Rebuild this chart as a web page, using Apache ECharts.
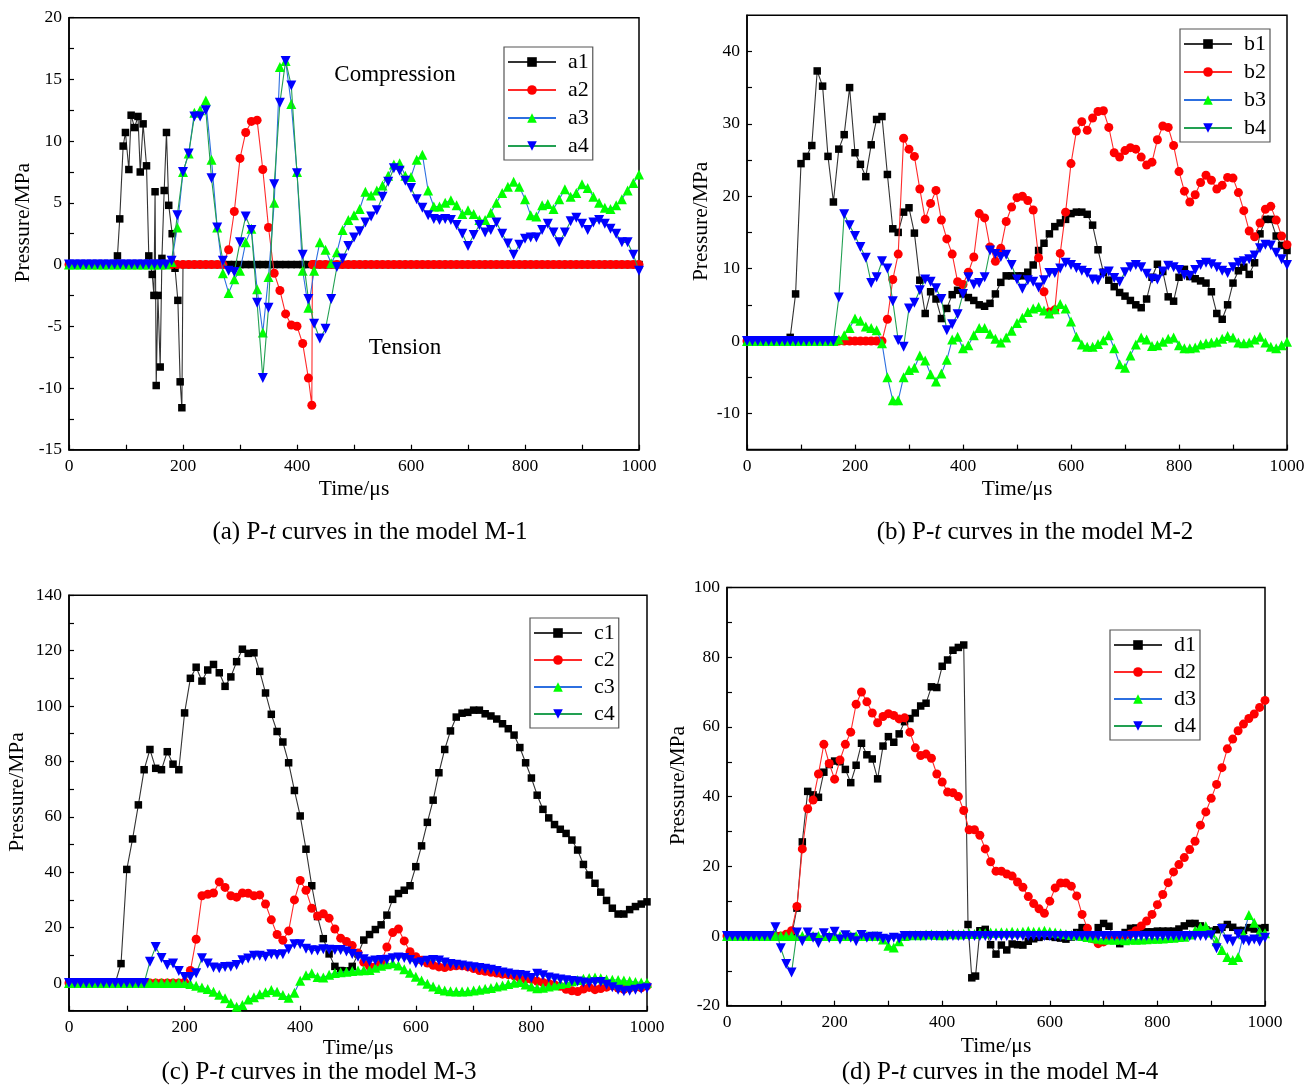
<!DOCTYPE html>
<html><head><meta charset="utf-8">
<script src="https://cdn.jsdelivr.net/npm/echarts@6/dist/echarts.min.js"></script>
<style>html,body{margin:0;padding:0;background:#fff}#c{width:1315px;height:1088px}</style>
</head><body><div id="c"></div>
<script>
// ---------- time grid (µs) ----------
const T10 = [
0,10,20,30,40,50,60,70,80,90,
100,110,120,130,140,150,160,170,180,190,
200,210,220,230,240,250,260,270,280,290,
300,310,320,330,340,350,360,370,380,390,
400,410,420,430,440,450,460,470,480,490,
500,510,520,530,540,550,560,570,580,590,
600,610,620,630,640,650,660,670,680,690,
700,710,720,730,740,750,760,770,780,790,
800,810,820,830,840,850,860,870,880,890,
900,910,920,930,940,950,960,970,980,990,
1000];

// ---------- tick labels ----------
const xLabels = [0,200,400,600,800,1000];
const xTicks = [0,100,200,300,400,500,600,700,800,900,1000];
const aYLabels = [-15,-10,-5,0,5,10,15,20];
const aYTicks = [-15,-12.5,-10,-7.5,-5,-2.5,0,2.5,5,7.5,10,12.5,15,17.5,20];
const bYLabels = [-10,0,10,20,30,40];
const bYTicks = [-10,-5,0,5,10,15,20,25,30,35,40];
const cYLabels = [0,20,40,60,80,100,120,140];
const cYTicks = [-10,0,10,20,30,40,50,60,70,80,90,100,110,120,130,140];
const dYLabels = [-20,0,20,40,60,80,100];
const dYTicks = [-20,-10,0,10,20,30,40,50,60,70,80,90,100];

// ---------- panel (a) M-1 ----------
const a1T = [0,10,20,30,40,50,60,70,80,85,89,95,99,105,109,115,121,125,130,136,140,146,149,151,153,156,160,163,167,171,175,181,186,191,195,198,200].concat(T10.slice(21));
const a1V = [0,0,0,0,0,0,0,0,0,0.7,3.7,9.6,10.7,7.7,12.1,11.1,12.0,7.5,11.4,8.0,0.7,-0.8,-2.5,5.9,-9.8,-2.5,-8.3,0.5,6.0,10.7,4.8,2.5,-0.3,-2.9,-9.5,-11.6,0,
0,0,0,0,0,0,0,0,0,
0,0,0,0,0,0,0,0,0,0,
0,0,0,0,0,0,0,0,0,0,
0,0,0,0,0,0,0,0,0,0,
0,0,0,0,0,0,0,0,0,0,
0,0,0,0,0,0,0,0,0,0,
0,0,0,0,0,0,0,0,0,0,
0,0,0,0,0,0,0,0,0,0,
0];
const a2T = T10.slice(0,43).concat([426,427]).concat(T10.slice(43));
const a2V = [
0,0,0,0,0,0,0,0,0,0,
0,0,0,0,0,0,0,0,0,0,
0,0,0,0,0,0,0,0,1.2,4.3,
8.6,10.7,11.6,11.7,7.7,3.0,-0.7,-2.1,-4.0,-4.9,
-5.0,-6.4,-9.2,-11.4,0,
0,0,0,0,0,0,0,
0,0,0,0,0,0,0,0,0,0,
0,0,0,0,0,0,0,0,0,0,
0,0,0,0,0,0,0,0,0,0,
0,0,0,0,0,0,0,0,0,0,
0,0,0,0,0,0,0,0,0,0,
0];
const a3V = [
0,0,0,0,0,0,0,0,0,0,
0,0,0,0,0,0,0,0,0.2,3.0,
7.5,9.0,12.3,12.5,13.3,8.5,3.0,-0.7,-2.3,-1.2,
-0.5,1.8,2.9,-2.0,-5.5,-1.0,5.0,16.0,16.5,13.0,
7.5,-0.5,-3.5,-0.5,1.8,1.2,0.1,1.0,2.8,3.6,
4.0,4.5,5.9,5.6,6.0,6.4,7.2,8.1,8.2,7.2,
7.1,8.5,8.9,6.0,4.7,4.7,5.0,5.2,4.8,4.1,
4.4,4.1,3.6,3.6,4.2,5.0,5.8,6.3,6.7,6.3,
5.3,4.0,3.9,4.8,4.9,4.5,5.3,6.1,5.5,5.8,
6.5,6.2,5.5,5.0,4.6,4.5,4.8,5.3,6.0,6.6,
7.3];
const a4V = [
0,0,0,0,0,0,0,0,0,0,
0,0,0,0,0,0,0,0,0.3,4.0,
7.5,9.0,12.0,12.0,12.5,7.0,3.0,0.3,-0.5,-0.6,
1.8,3.9,2.8,-3.1,-9.2,-3.5,6.5,13.1,16.5,14.5,
7.4,0.8,-2.8,-4.8,-6.0,-5.2,-2.8,-0.2,0.5,1.5,
2.2,2.7,3.4,3.9,4.4,5.5,6.7,7.8,7.6,6.8,
6.2,5.3,4.6,4.0,3.7,3.6,3.7,3.6,3.2,2.5,
1.5,2.4,3.2,2.6,2.8,3.4,2.5,1.7,0.8,1.6,
2.1,2.2,2.2,2.8,3.3,2.6,1.8,2.6,3.5,3.8,
3.3,2.8,3.4,3.6,3.3,2.9,2.5,1.8,1.8,0.8,
-0.5];

// ---------- panel (b) M-2 ----------
const b1V = [
0,0,0,0,0,0,0,0,0.5,6.5,
24.5,25.5,27.0,37.3,35.2,25.5,19.2,26.5,28.5,35.0,
26.0,24.4,22.7,27.1,30.6,31.0,23.0,15.5,15.0,17.8,
18.4,14.9,8.4,3.8,6.8,5.8,3.1,4.5,6.4,7.0,
6.5,6.0,5.6,5.0,4.8,5.2,6.5,8.1,9.0,9.0,
9.0,9.0,9.5,10.5,12.5,13.5,14.8,15.8,16.3,16.8,
17.6,17.8,17.8,17.5,16.0,12.6,9.5,8.4,7.5,6.7,
6.2,5.6,5.0,4.6,5.8,8.8,10.6,9.6,6.1,5.5,
8.8,9.9,8.9,8.6,8.3,8.0,6.8,3.8,3.0,5.0,
8.0,9.7,10.2,9.2,10.8,14.8,16.8,16.8,14.5,13.2,
12.5];
const b2V = [
0,0,0,0,0,0,0,0,0,0,
0,0,0,0,0,0,0,0,0,0,
0,0,0,0,0,0,3.0,8.5,12.0,28.0,
26.5,25.5,21.0,16.8,19.0,20.8,16.7,14.1,12.0,8.2,
7.8,9.5,11.6,17.6,17.0,13.0,11.0,12.8,16.5,18.5,
19.8,20.0,19.4,18.1,11.5,6.8,4.0,4.3,12.1,17.8,
24.5,29.0,30.3,29.1,30.8,31.7,31.8,29.5,26.0,25.4,
26.3,26.7,26.5,25.4,24.3,24.7,27.8,29.7,29.5,27.0,
23.4,20.7,19.2,20.2,21.9,22.9,22.2,21.0,21.5,22.6,
22.5,20.5,18.0,15.2,14.4,16.3,18.2,18.6,16.7,14.5,
13.3];
const b3V = [
0,0,0,0,0,0,0,0,0,0,
0,0,0,0,0,0,0,0.2,0.8,1.8,
3.1,2.8,2.0,1.8,1.5,-0.3,-5.0,-8.2,-8.2,-5.0,
-4.0,-3.7,-2.0,-2.7,-4.6,-5.6,-4.5,-2.6,0.2,0.6,
-1.0,-0.6,0.8,1.8,1.8,1.0,0.3,-0.2,0.5,1.4,
2.5,3.2,4.0,4.5,4.7,4.2,3.8,4.4,5.1,4.5,
2.7,0.6,-0.5,-0.8,-0.8,-0.4,0.1,0.8,-1.0,-3.2,
-3.7,-2.0,-0.5,0.5,0.2,-0.7,-0.6,-0.1,0.3,0.5,
-0.6,-1.0,-1.0,-0.9,-0.5,-0.3,-0.2,-0.1,0.3,0.7,
0.5,-0.2,-0.3,-0.2,0.2,0.6,-0.2,-0.8,-1.0,-0.6,
-0.1];
const b4V = [
0,0,0,0,0,0,0,0,0,0,
0,0,0,0,0,0,0,6.0,17.5,16.0,
14.5,13.0,11.5,8.0,8.8,11.0,10.0,5.5,0.1,-0.8,
4.5,5.3,7.0,8.5,8.2,7.3,5.8,1.5,2.3,3.7,
6.5,8.8,7.8,8.0,8.8,12.5,12.0,11.6,11.9,10.5,
8.5,7.2,8.4,8.2,7.4,8.4,9.4,9.4,10.0,10.8,
10.5,10.1,9.7,9.4,8.5,8.4,9.3,9.6,8.7,8.2,
9.5,10.2,10.5,10.2,9.3,8.6,8.5,9.6,10.4,10.2,
9.8,9.1,9.0,9.8,10.5,10.8,10.6,10.2,9.7,9.4,
10.2,10.8,11.0,11.3,11.8,12.8,13.3,13.2,12.2,11.3,
10.5];

// ---------- panel (c) M-3 ----------
const c1V = [
0,0,0,0,0,0,0,0,0,7.0,
41.0,52.0,64.3,77.0,84.3,77.5,77.0,83.5,79.0,77.0,
97.5,110.0,114.0,109.0,113.0,115.0,112.0,107.1,110.5,116.0,
120.5,119.0,119.2,112.5,104.7,97.0,90.8,87.0,79.5,69.5,
60.3,48.3,35.1,24.0,16.0,10.5,6.0,4.5,4.4,6.0,
10.5,15.5,17.5,19.3,21.0,24.5,30.2,32.3,33.5,35.1,
42.0,49.5,58.0,66.0,75.9,84.3,91.0,96.0,97.4,97.7,
98.5,98.5,97.2,96.4,95.3,93.6,91.8,89.5,85.0,79.5,
74.0,67.8,62.7,59.6,57.2,55.5,54.0,51.6,48.0,42.8,
39.0,36.0,32.8,29.8,27.0,24.9,24.9,26.5,27.6,28.5,
29.3];
const c2V = [
0,0,0,0,0,0,0,0,0,0,
0,0,0,0,0,0,0,0,0,0,
0.3,4.5,15.8,31.5,32.0,32.5,36.5,34.5,31.5,31.0,
32.5,32.4,31.5,31.8,28.5,22.8,17.5,15.4,18.8,30.0,
37.0,33.5,27.0,24.2,25.0,23.4,19.5,16.2,15.0,13.5,
10.8,7.5,6.0,5.8,7.5,13.0,18.2,19.5,15.2,11.3,
9.5,8.2,7.2,6.4,5.8,5.6,6.0,6.2,6.2,5.8,
5.2,4.5,4.2,3.9,3.6,3.2,3.0,2.6,1.8,1.4,
1.3,0.6,0.2,-0.2,-0.6,-1.2,-2.3,-2.8,-3.1,-2.2,
-1.6,-2.4,-2.0,-1.5,-1.0,-1.8,-2.3,-1.8,-1.5,-1.7,
-1.0];
const c3V = [
0,0,0,0,0,0,0,0,0,0,
0,0,0,0,0,0,0,0,0,0,
0,-0.4,-1.0,-1.6,-2.2,-3.2,-4.2,-5.5,-7.2,-8.6,
-7.9,-6.0,-5.1,-4.1,-3.3,-2.5,-3.2,-4.3,-5.3,-3.5,
0.8,2.8,3.5,2.2,2.0,3.0,3.6,3.9,4.1,4.3,
4.5,4.6,4.7,5.5,6.2,6.8,7.1,6.3,5.0,3.7,
2.3,0.9,-0.3,-1.3,-2.2,-2.7,-3.0,-3.1,-3.1,-3.0,
-2.7,-2.4,-2.1,-1.8,-1.3,-0.9,-0.4,0.1,0.4,-0.5,
-1.3,-1.9,-1.7,-1.3,-0.9,-0.4,0.0,0.6,1.1,1.5,
1.8,2.0,1.7,1.3,1.2,1.1,0.9,0.7,0.4,0.2,
0.1];
const c4V = [
0,0,0,0,0,0,0,0,0,0,
0,0,0,0,7.7,13.0,9.0,6.5,7.0,4.3,
2.2,2.2,3.5,8.9,7.0,5.6,5.3,5.8,5.9,6.5,
8.2,8.8,9.8,9.8,9.5,10.4,10.1,10.4,12.2,14.0,
14.0,12.4,11.8,11.7,12.2,12.0,11.9,11.9,11.4,10.5,
9.5,8.6,7.8,8.1,8.3,8.4,8.9,9.2,9.0,8.3,
7.1,7.5,8.0,8.3,8.1,7.4,6.9,6.6,6.3,6.0,
5.7,5.4,5.1,4.8,4.3,3.8,3.4,3.0,2.9,2.6,
1.8,3.3,2.8,2.0,1.6,1.3,1.0,0.7,0.5,0.2,
-0.1,0.3,0.4,-0.6,-1.5,-2.4,-3.0,-2.8,-2.4,-2.1,
-1.9];

// ---------- panel (d) M-4 ----------
const d1T = T10.slice(0,45).concat([448,455,462,470]).concat(T10.slice(48));
const d1V = [
0,0,0,0,0,0,0,0,0,0,
0,0,0,8.0,27.0,41.5,40.5,39.8,47.0,49.2,
50.2,50.0,47.8,44.0,49.0,55.3,52.0,50.8,45.1,54.5,
57.2,55.6,58.0,61.5,62.4,64.0,66.0,66.8,71.5,71.3,
77.4,79.2,82.0,82.8,83.5,
3.3,-12.0,-11.5,1.5,
1.9,-2.5,
-5.2,-2.6,-4.0,-2.3,-2.5,-2.6,-1.5,-0.8,-0.4,0,
-0.1,-0.4,-0.6,-0.9,-0.3,1.0,2.4,0.5,0,2.4,
3.6,2.8,-0.8,-2.2,1.0,2.2,2.3,1.9,1.2,1.2,
1.4,1.4,1.4,1.4,2.0,2.9,3.6,3.6,2.9,1.8,
1.4,1.8,2.5,3.3,2.5,1.6,1.6,2.4,2.0,2.2,
2.4];
const d2V = [
0,0,0,0,0,0,0,0,0,0,
0,0.5,1.5,8.5,25.0,36.5,39.0,46.5,55.0,49.5,
45.0,50.5,55.0,58.5,66.5,70.0,67.2,64.0,61.2,63.0,
63.8,63.3,62.3,62.6,58.5,54.0,51.8,52.2,51.0,46.5,
44.2,41.3,41.1,40.0,36.0,30.5,30.5,28.9,25.0,21.3,
18.6,18.6,17.8,17.2,15.5,14.0,11.3,9.3,7.8,6.5,
10.0,13.8,15.2,15.2,14.3,11.5,6.2,2.2,-0.8,-2.2,
-1.7,-1.0,-0.7,-0.2,0.1,0.6,1.5,2.9,4.3,6.2,
9.0,11.9,15.3,18.4,20.5,22.5,24.8,27.2,31.8,35.6,
39.5,43.5,48.3,53.7,56.5,58.9,60.8,62.4,63.7,65.6,
67.6];
const d3V = [
0,0,0,0,0,0,0,0,0,0,
0,0,0,0,0,0,0,0,0,0,
0,0,0,0,0,0,0,0,0,-1.0,
-2.8,-3.3,-1.5,0,0.2,0.3,0.2,0.4,0.5,0.3,
0.2,0.5,0.6,0.4,0.6,0.8,0.6,0.9,0.8,1.0,
0.9,1.1,1.0,1.2,1.0,1.2,1.4,1.2,1.3,1.5,
1.2,1.0,0.8,0.5,0.3,0.2,0,-0.3,-0.5,-0.8,
-1.0,-1.0,-1.1,-1.0,-1.2,-1.0,-1.1,-1.0,-0.9,-0.8,
-0.8,-0.7,-0.6,-0.5,-0.3,-0.2,0.4,1.5,2.6,2.8,
1.0,-1.5,-4.0,-6.0,-6.9,-6.0,0.5,6.0,3.8,1.2,
0.8];
const d4V = [
0,0,0,0,0,0,0,0,0,2.5,
-3.5,-8.0,-10.5,1.0,-1.5,1.0,-0.5,-2.0,0.8,-0.6,
1.2,-1.0,0.2,-0.5,-1.5,0.3,-0.5,-0.2,-0.2,-0.8,
-1.0,-0.5,-0.7,0,0,0,0,0,0,0,
0,0,0,0,0,0,0,0,0,0,
0,0,0,0,0,0,0,0,0,0,
0,0,0,0,0,0,0,0,0,0,
0,0,0,0,0,0,0,0,0,0,
0,0,0,0,0,0,0,0,0,0,
0.2,-3.5,2.0,-1.0,-1.6,0.5,-1.2,-1.5,-1.0,-1.6,
-0.5];

// ---------- build ----------
const F = "'Liberation Serif','Times New Roman',serif";
function zip(T, V, name) {
  if (T.length !== V.length) throw new Error(name + ' length ' + T.length + ' vs ' + V.length);
  return T.map((t, i) => [t, V[i]]);
}
const STY = [
  {symbol:'rect', size:7.5, rot:0, fill:'#000000', line:'#333333'},
  {symbol:'circle', size:9, rot:0, fill:'#ff0000', line:'#ff2a2a'},
  {symbol:'triangle', size:10, rot:0, fill:'#00ff00', line:'#2c6fe0'},
  {symbol:'triangle', size:10, rot:180, fill:'#0000ff', line:'#22a052'}
];
const panels = [
  {names:['a1','a2','a3','a4'], data:[zip(a1T,a1V,'a1'), zip(a2T,a2V,'a2'), zip(T10,a3V,'a3'), zip(T10,a4V,'a4')]},
  {names:['b1','b2','b3','b4'], data:[zip(T10,b1V,'b1'), zip(T10,b2V,'b2'), zip(T10,b3V,'b3'), zip(T10,b4V,'b4')]},
  {names:['c1','c2','c3','c4'], data:[zip(T10,c1V,'c1'), zip(T10,c2V,'c2'), zip(T10,c3V,'c3'), zip(T10,c4V,'c4')]},
  {names:['d1','d2','d3','d4'], data:[zip(d1T,d1V,'d1'), zip(T10,d2V,'d2'), zip(T10,d3V,'d3'), zip(T10,d4V,'d4')]}
];
const grids = [
  {left:69, top:17.7, width:570, height:432},
  {left:747, top:15.2, width:540, height:434.4},
  {left:69, top:595.2, width:578, height:415.5},
  {left:727, top:587.5, width:538, height:418.2}
];
const yCfg = [
  {min:-15, max:20, labels:aYLabels, ticks:aYTicks, gap:26},
  {min:-15, max:45, labels:bYLabels, ticks:bYTicks, gap:23},
  {min:-10, max:140, labels:cYLabels, ticks:cYTicks, gap:41},
  {min:-20, max:100, labels:dYLabels, ticks:dYTicks, gap:29}
];
const xGap = [29, 29, 25, 30];
const legendPos = [
  {left:504, top:47, gap:6},
  {left:1180, top:29, gap:6},
  {left:530, top:618, gap:5},
  {left:1110, top:630, gap:5}
];
const axisLineStyle = {color:'#000', width:1.5};
const fmt = v => String(v);
const xAxis = [], yAxis = [], series = [], legend = [];
grids.forEach((g, i) => {
  xAxis.push({
    type:'value', gridIndex:i, min:0, max:1000,
    name:'Time/μs', nameLocation:'middle', nameGap:xGap[i],
    nameTextStyle:{fontFamily:F, fontSize:21.5, color:'#000'},
    axisLine:{show:true, onZero:false, lineStyle:axisLineStyle},
    axisTick:{show:true, inside:true, length:5, customValues:xTicks, lineStyle:{color:'#000', width:1.2}},
    axisLabel:{customValues:xLabels, formatter:fmt, fontFamily:F, fontSize:17.5, color:'#000', margin:8},
    splitLine:{show:false}
  });
  const y = yCfg[i];
  yAxis.push({
    type:'value', gridIndex:i, min:y.min, max:y.max,
    name:'Pressure/MPa', nameLocation:'middle', nameGap:y.gap, nameRotate:90,
    nameTextStyle:{fontFamily:F, fontSize:21.5, color:'#000', padding:[0,0,0,22]},
    axisLine:{show:true, onZero:false, lineStyle:axisLineStyle},
    axisTick:{show:true, inside:true, length:5, customValues:y.ticks, lineStyle:{color:'#000', width:1.2}},
    axisLabel:{customValues:y.labels, formatter:fmt, fontFamily:F, fontSize:17.5, color:'#000', margin:7},
    splitLine:{show:false}
  });
  const p = panels[i];
  p.names.forEach((n, k) => {
    const s = STY[k];
    series.push({
      type:'line', name:n, xAxisIndex:i, yAxisIndex:i, data:p.data[k],
      symbol:s.symbol, symbolSize:s.size, symbolRotate:s.rot, showAllSymbol:true,
      lineStyle:{color:s.line, width:1.1},
      itemStyle:{color:s.fill, borderWidth:0},
      emphasis:{disabled:true}, animation:false, z:2 + k
    });
  });
  const L = legendPos[i];
  legend.push({
    data:p.names, orient:'vertical', left:L.left, top:L.top,
    itemWidth:48, itemHeight:12, itemGap:L.gap,
    padding:[4,4,3,3], borderColor:'#555', borderWidth:1.2,
    backgroundColor:'#fff', selectedMode:false,
    textStyle:{fontFamily:F, fontSize:22, color:'#000', padding:[0,0,0,7]}
  });
});
const gridOpts = grids.map(g => Object.assign({show:true, borderColor:'#000', borderWidth:1.5, backgroundColor:'transparent', containLabel:false}, g));

function txt(x, y, text, size, rich) {
  return {type:'text', x:x, y:y, z:100, silent:true,
    style:{text:text, fontFamily:F, fontSize:size, fill:'#000', align:'center', verticalAlign:'middle',
      textAlign:'center', textVerticalAlign:'middle', rich:rich}};
}
const richI = {i:{fontStyle:'italic', fontFamily:F, fontSize:25, fill:'#000'}};
const graphic = [
  txt(395, 75, 'Compression', 23),
  txt(405, 348, 'Tension', 23),
  txt(370, 532, '(a) P-{i|t} curves in the model M-1', 25, richI),
  txt(1035, 532, '(b) P-{i|t} curves in the model M-2', 25, richI),
  txt(319, 1072, '(c) P-{i|t} curves in the model M-3', 25, richI),
  txt(1000, 1072, '(d) P-{i|t} curves in the model M-4', 25, richI)
];

const chart = echarts.init(document.getElementById('c'), null, {renderer:'canvas'});
chart.setOption({
  backgroundColor:'#fff', animation:false,
  grid:gridOpts, xAxis:xAxis, yAxis:yAxis, series:series, legend:legend, graphic:graphic
});
</script></body></html>
